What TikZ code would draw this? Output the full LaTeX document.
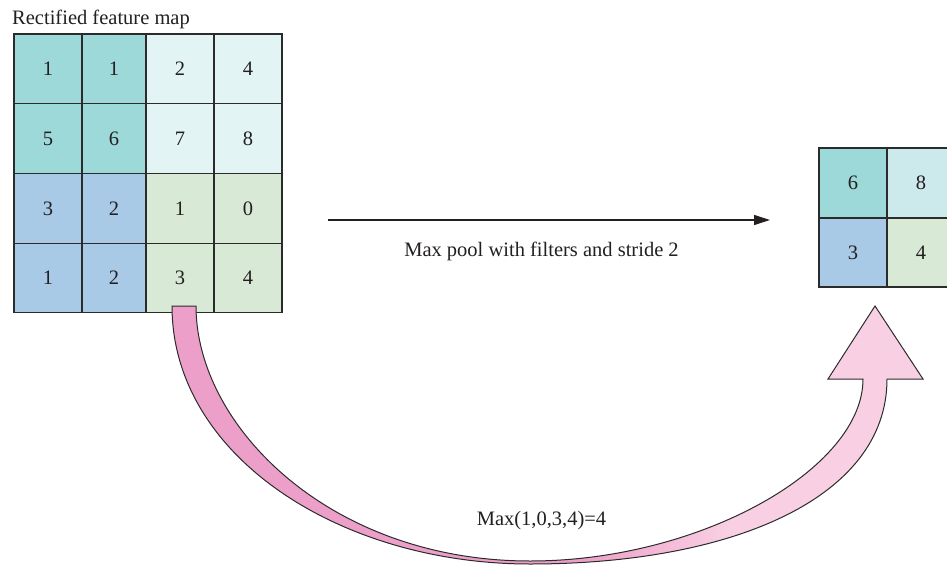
\documentclass[tikz,border=0pt]{standalone}
\usepackage{fontspec}
\setmainfont{Liberation Serif}
\usetikzlibrary{arrows.meta}

\definecolor{ink}{HTML}{231F20}
\definecolor{gridline}{HTML}{2B2B2B}
\definecolor{tealA}{HTML}{9ED9D9}
\definecolor{cyanA}{HTML}{E3F4F4}
\definecolor{cyanB}{HTML}{CCEAEC}
\definecolor{blueA}{HTML}{A8CAE6}
\definecolor{greenA}{HTML}{D8EAD5}
\definecolor{pinkdark}{HTML}{EC9FC8}
\definecolor{pinklight}{HTML}{F9CFE3}

% dark pink on the left half of the band, light pink towards the head
\pgfdeclarehorizontalshading{bandshade}{100bp}{%
  color(0bp)=(pinkdark); color(52bp)=(pinkdark);
  color(62bp)=(pinklight); color(100bp)=(pinklight)}

\begin{document}
\begin{tikzpicture}[x=1pt, y=-1pt,
  txt/.style={text=ink, font=\fontsize{20.5}{24}\selectfont, inner sep=0pt},
  cell/.style={txt, draw=gridline, line width=1.1pt, outer sep=0pt},
  poolarrow/.style={draw=ink, line width=1.1pt, -{Triangle[length=16pt,width=10pt]}},
  band/.style={shading=bandshade, draw=gridline, line width=1pt, line join=miter}]
\useasboundingbox (0,0) rectangle (947,567);

% input feature map, 4x4
\foreach \nm/\cx/\cy/\w/\h/\col/\val in {
  a11/48/68.75/68/69.5/tealA/1,  a12/114/68.75/64/69.5/tealA/1,
  a13/180/68.75/68/69.5/cyanA/2, a14/248/68.75/68/69.5/cyanA/4,
  a21/48/138.5/68/70/tealA/5,    a22/114/138.5/64/70/tealA/6,
  a23/180/138.5/68/70/cyanA/7,   a24/248/138.5/68/70/cyanA/8,
  a31/48/208.5/68/70/blueA/3,    a32/114/208.5/64/70/blueA/2,
  a33/180/208.5/68/70/greenA/1,  a34/248/208.5/68/70/greenA/0,
  a41/48/278/68/69/blueA/1,      a42/114/278/64/69/blueA/2,
  a43/180/278/68/69/greenA/3,    a44/248/278/68/69/greenA/4}
  \node[cell, fill=\col, minimum width=\w pt, minimum height=\h pt] (\nm) at (\cx,\cy) {\val};

% pooled output, 2x2
\foreach \nm/\cx/\cy/\h/\col/\val in {
  b11/853/183/70/tealA/6,  b12/921/183/70/cyanB/8,
  b21/853/252.5/69/blueA/3, b22/921/252.5/69/greenA/4}
  \node[cell, fill=\col, minimum width=68pt, minimum height=\h pt] (\nm) at (\cx,\cy) {\val};

\node[txt, anchor=base west] (title) at (12,25) {Rectified feature map};

% pooling arrow
\coordinate (poolA) at (328,220);
\coordinate (poolB) at (770,220);
\draw[poolarrow] (poolA) -- (poolB);
\node[txt, anchor=base] (poollabel) at (541.5,256) {Max pool with filters and stride 2};

% curved block arrow from the lower-right window to its pooled value
\shade[band] (172,306) .. controls (172,456) and (340,564) .. (530,564)
  .. controls (730,564) and (887,499) .. (887,379)
  -- (923,379) -- (875,306) -- (828,379) -- (863,379)
  .. controls (863,469) and (700,561) .. (530,561)
  .. controls (330,561) and (196,426) .. (196,306) -- cycle;

\node[txt, anchor=base] (maxlabel) at (541.5,525) {Max(1,0,3,4)=4};
\end{tikzpicture}
\end{document}
